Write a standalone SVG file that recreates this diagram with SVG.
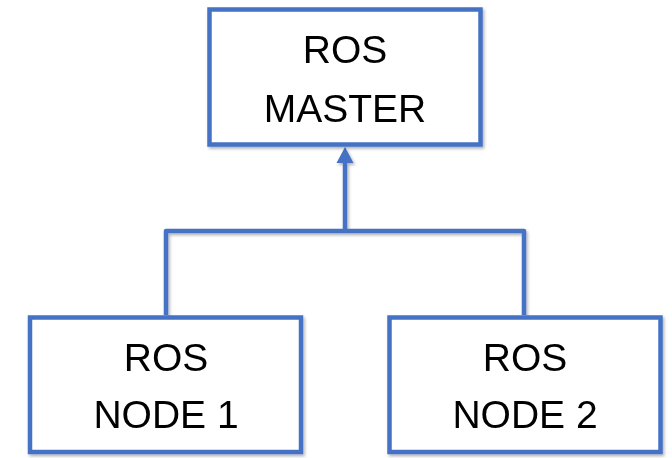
<svg xmlns="http://www.w3.org/2000/svg" width="672" height="458" viewBox="0 0 672 458">
  <style>
    .box { fill: #ffffff; stroke: #4472c4; stroke-width: 4.5; }
    .lbl { font-family: "Liberation Sans", Arial, sans-serif; font-size: 39px; fill: #000000; text-anchor: middle; }
    .wire { fill: none; stroke: #4472c4; stroke-width: 4.5; stroke-linejoin: round; }
  </style>
  <defs>
    <filter id="shadow" x="-5%" y="-5%" width="115%" height="115%">
      <feDropShadow dx="1.5" dy="2" stdDeviation="1.5" flood-color="#000000" flood-opacity="0.3"/>
    </filter>
    <marker id="arrow" markerUnits="userSpaceOnUse" markerWidth="18" markerHeight="16" refX="9" refY="0" orient="auto-start-reverse" viewBox="0 0 18 16">
      <path d="M0,16 L9,0 L18,16 Z" fill="#4472c4"/>
    </marker>
  </defs>

  <g id="connectors" filter="url(#shadow)">
    <path class="wire" d="M166,315 V231 H524 V315"/>
    <path class="wire" d="M345,231 V160"/>
    <path d="M336.5,163 L345,147 L353.5,163 Z" fill="#4472c4"/>
  </g>

  <g id="ros-master" filter="url(#shadow)">
    <rect class="box" x="209.5" y="9.5" width="271" height="135"/>
    <text class="lbl" x="345" y="63">ROS</text>
    <text class="lbl" x="345" y="122">MASTER</text>
  </g>

  <g id="ros-node-1" filter="url(#shadow)">
    <rect class="box" x="30" y="317.5" width="271" height="134.5"/>
    <text class="lbl" x="166" y="371">ROS</text>
    <text class="lbl" x="166" y="428">NODE 1</text>
  </g>

  <g id="ros-node-2" filter="url(#shadow)">
    <rect class="box" x="389.5" y="317.5" width="271" height="134.5"/>
    <text class="lbl" x="525" y="371">ROS</text>
    <text class="lbl" x="525" y="428">NODE 2</text>
  </g>
</svg>
